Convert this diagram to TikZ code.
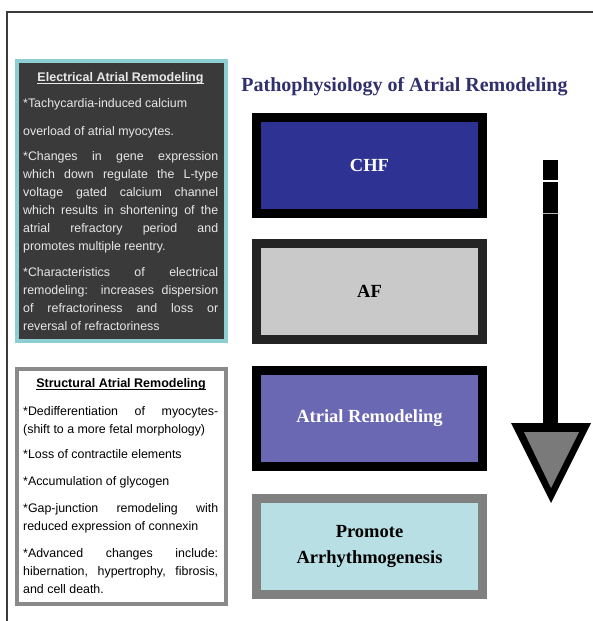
\documentclass[tikz,border=0pt]{standalone}
\usepackage{fontspec}
\setmainfont{Liberation Serif}
\setsansfont{Liberation Sans}
\definecolor{titleblue}{RGB}{48,48,110}
\definecolor{chfblue}{RGB}{46,50,146}
\definecolor{arpurple}{RGB}{106,104,178}
\definecolor{paleblue}{RGB}{184,223,228}
\definecolor{afgray}{RGB}{201,201,201}
\definecolor{afborder}{RGB}{36,36,36}
\definecolor{pborder}{RGB}{128,128,128}
\definecolor{elecbg}{RGB}{58,58,58}
\definecolor{elecborder}{RGB}{140,206,210}
\definecolor{structborder}{RGB}{138,138,138}
\definecolor{electext}{RGB}{232,232,232}
\definecolor{framegray}{RGB}{60,60,60}
\definecolor{arrowgray}{RGB}{122,122,122}
\newcommand{\jline}[1]{\makebox[195pt][s]{#1}}
\begin{document}
\begin{tikzpicture}[x=1pt,y=-1pt,
  body/.style={inner sep=0pt, anchor=base west, font=\sffamily\fontsize{12.4}{18}\selectfont},
  ebody/.style={body, text=electext},
  sbody/.style={body, text=black},
  boxtitle/.style={inner sep=0pt, anchor=base, font=\sffamily\bfseries\fontsize{12.5}{15}\selectfont},
  flowbox/.style={draw, line width=9pt, minimum width=226pt, minimum height=96pt, inner sep=0pt,
    font=\bfseries\fontsize{18.5}{26}\selectfont, align=center},
  sidebox/.style={draw, line width=4pt, minimum width=209pt, inner sep=0pt},
]
\useasboundingbox (0,0) rectangle (593,621);
\fill[white] (0,0) rectangle (593,621);
% open frame
\draw[framegray, line width=2pt] (593,12) -- (7,12) -- (7,621);

% main title
\node[inner sep=0pt, anchor=base, text=titleblue, font=\bfseries\fontsize{20}{24}\selectfont] (title) at (404.5,91) {Pathophysiology of Atrial Remodeling};

% flow boxes
\node[flowbox, draw=black, fill=chfblue, text=white] (chf) at (369.5,165.5) {\raisebox{-3pt}{CHF}};
\node[flowbox, draw=afborder, fill=afgray, text=black] (af) at (369.5,291.5) {\raisebox{-3pt}{AF}};
\node[flowbox, draw=black, fill=arpurple, text=white] (ar) at (369.5,418) {\raisebox{-3pt}{Atrial Remodeling}};
\node[flowbox, draw=pborder, fill=paleblue, text=black] (pa) at (369.5,546.5) {Promote\\Arrhythmogenesis};

% big arrow
\coordinate (shafttop) at (550.5,160);
\fill[black] (543,160) rectangle (558,428);
\draw[white, line width=1.3pt] (543,181) -- (558,181);
\draw[gray!60, line width=0.6pt] (543,213) -- (558,213);
\fill[black] (511,423) -- (591,423) -- (551,503) -- cycle;
\fill[arrowgray] (524,432) -- (579,432) -- (551,488) -- cycle;

% electrical box
\node[sidebox, draw=elecborder, fill=elecbg, minimum height=280pt] (ebox) at (121.5,201) {};
\node[boxtitle, text=electext] (et) at (120.5,81) {Electrical Atrial Remodeling};
\draw[electext, line width=0.7pt] ([yshift=-2pt]et.base west) -- ([yshift=-2pt]et.base east);
\node[ebody] (e1) at (23,107) {*Tachycardia-induced calcium};
\node[ebody] (e2) at (23,135) {overload of atrial myocytes.};
\node[ebody] (e3) at (23,160) {\parbox[t]{195pt}{\jline{*Changes in gene expression}\\
\jline{which down regulate the L-type}\\
\jline{voltage gated calcium channel}\\
\jline{which results in shortening of the}\\
\jline{atrial refractory period and}\\
promotes multiple reentry.}};
\node[ebody] (e4) at (23,276) {\parbox[t]{195pt}{\jline{*Characteristics of electrical}\\
\jline{remodeling: increases dispersion}\\
\jline{of refractoriness and loss or}\\
reversal of refractoriness}};

% structural box
\node[sidebox, draw=structborder, fill=white, minimum height=235pt] (sbox) at (121.5,486.5) {};
\node[boxtitle, text=black] (st) at (121,387) {Structural Atrial Remodeling};
\draw[black, line width=0.7pt] ([yshift=-2pt]st.base west) -- ([yshift=-2pt]st.base east);
\node[sbody] (s1) at (23,415) {\parbox[t]{195pt}{\jline{*Dedifferentiation of myocytes-}\\
(shift to a more fetal morphology)}};
\node[sbody] (s2) at (23,458) {*Loss of contractile elements};
\node[sbody] (s3) at (23,485) {*Accumulation of glycogen};
\node[sbody] (s4) at (23,512) {\parbox[t]{195pt}{\jline{*Gap-junction remodeling with}\\
reduced expression of connexin}};
\node[sbody] (s5) at (23,557) {\parbox[t]{195pt}{\jline{*Advanced changes include:}\\
\jline{hibernation, hypertrophy, fibrosis,}\\
and cell death.}};
\end{tikzpicture}
\end{document}
